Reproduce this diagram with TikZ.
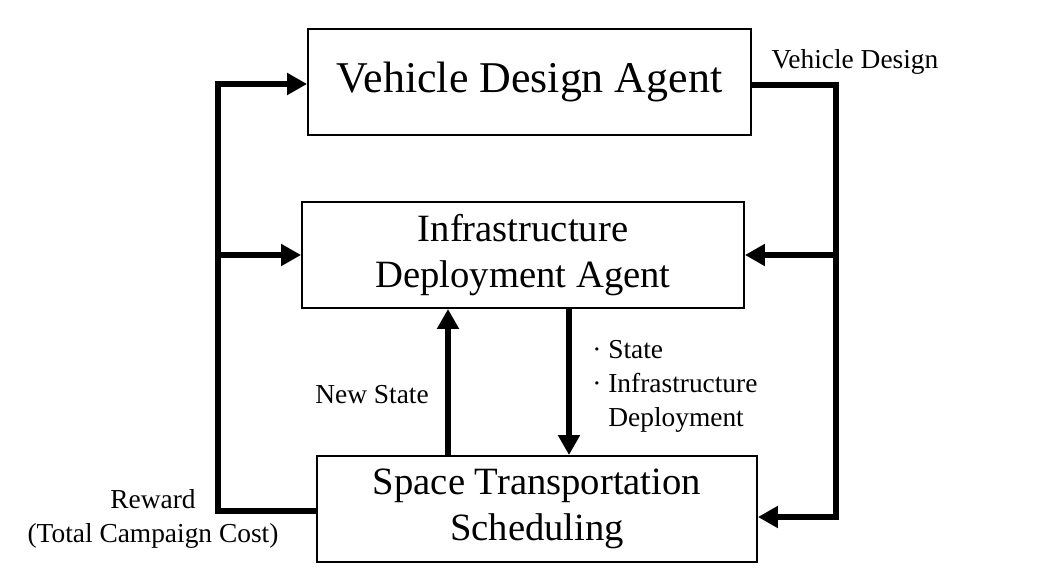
\documentclass[tikz,border=0pt]{standalone}
\usepackage{fontspec}
\setmainfont{Liberation Serif}
\usetikzlibrary{arrows.meta}
\begin{document}
\begin{tikzpicture}[x=0.02cm,y=-0.02cm,
  agent/.style={draw,line width=1.1pt,minimum width=8.84cm,minimum height=2.12cm,inner sep=0pt,align=center,font=\fontsize{22}{25.8}\selectfont},
  flow/.style={line width=3.2pt,-{Triangle[length=0.4cm,width=0.42cm]}},
  note/.style={inner sep=0pt,font=\fontsize{15.6}{19.3}\selectfont}]
\useasboundingbox (0,0) rectangle (1047,570);
\node [agent,minimum width=8.86cm,font=\fontsize{25}{28}\selectfont] (vda) at (529.5,82) {Vehicle Design Agent};
\node [agent] (ida) at (523,255) {Infrastructure\\Deployment Agent};
\node [agent,minimum width=8.8cm] (sts) at (537,509) {Space Transportation\\Scheduling};
\coordinate (rt) at (836,85);
\coordinate (rb) at (836,517);
\coordinate (lt) at (218,84);
\coordinate (lb) at (218,511);
\coordinate (up) at (448,0);
\coordinate (dn) at (569,0);
\draw [flow] (vda.east |- rt) -- (rt) -- (rb) -- (sts.east |- rb);
\draw [flow] (rt |- ida) -- (ida.east);
\draw [flow] (sts.west |- lb) -- (lb) -- (lt) -- (vda.west |- lt);
\draw [flow] (lb |- ida) -- (ida.west);
\draw [flow] (up |- sts.north) -- (up |- ida.south);
\draw [flow] (dn |- ida.south) -- (dn |- sts.north);
\node [note,anchor=base] (vdl) at (855,69) {Vehicle Design};
\node [note,anchor=base] (nsl) at (372,403) {New State};
\node [note,anchor=west,align=left] (stl) at (592,386) {·~State\\·~Infrastructure\\\hphantom{·~}Deployment};
\node [note,align=center] (rwl) at (153,519) {Reward\\(Total Campaign Cost)};
\end{tikzpicture}
\end{document}
